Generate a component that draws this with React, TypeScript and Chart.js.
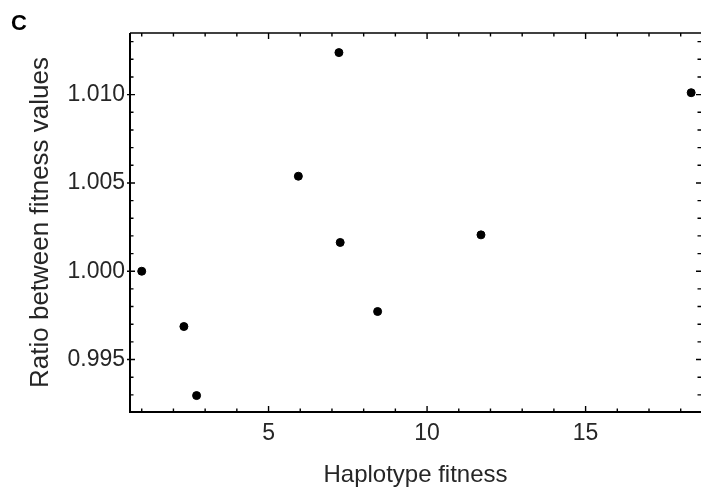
import React, { useEffect, useRef } from 'react';
import { Chart, registerables } from 'chart.js';

Chart.register(...registerables);

const haplotypeFitness = [1.0, 2.33, 2.73, 5.94, 7.22, 7.26, 8.44, 11.7, 18.33];
const fitnessRatio = [1.0, 0.99687, 0.99296, 1.00538, 1.01238, 1.00163, 0.99772, 1.00206, 1.01011];
const xMajorTicks = [5, 10, 15];
const yMajorTicks = [0.995, 1.0, 1.005, 1.01];
const panelLabel = 'C';
const xTitle = 'Haplotype fitness';
const yTitle = 'Ratio between fitness values';

const FONT = "'Liberation Sans', Arial, Helvetica, sans-serif";
const TEXT = '#262626';

const isMajorX = (v: number) => xMajorTicks.some((t) => Math.abs(t - v) < 1e-6);
const isMajorY = (v: number) => yMajorTicks.some((t) => Math.abs(t - v) < 1e-7);

const framePlugin = {
  id: 'frameTicks',
  afterDraw(chart: any) {
    const ctx = chart.ctx;
    const { left, right, top, bottom } = chart.chartArea;
    const xs = chart.scales.x;
    const ys = chart.scales.y;
    ctx.save();
    ctx.strokeStyle = '#000';
    ctx.lineCap = 'butt';
    // frame
    ctx.lineWidth = 2;
    ctx.beginPath();
    ctx.moveTo(left, top);
    ctx.lineTo(left, bottom);
    ctx.lineTo(right, bottom);
    ctx.stroke();
    ctx.lineWidth = 1.6;
    ctx.beginPath();
    ctx.moveTo(left, top);
    ctx.lineTo(right, top);
    ctx.stroke();
    // ticks
    ctx.lineWidth = 1.4;
    ctx.beginPath();
    xs.ticks.forEach((t: any) => {
      const px = xs.getPixelForValue(t.value);
      const len = isMajorX(t.value) ? 6 : 3.5;
      ctx.moveTo(px, bottom);
      ctx.lineTo(px, bottom - len);
      ctx.moveTo(px, top);
      ctx.lineTo(px, top + len);
    });
    ys.ticks.forEach((t: any) => {
      const py = ys.getPixelForValue(t.value);
      const major = isMajorY(t.value);
      const len = major ? 5 : 3.5;
      ctx.moveTo(left - (major ? 3 : 0), py);
      ctx.lineTo(left + len, py);
      ctx.moveTo(right, py);
      ctx.lineTo(right - len, py);
    });
    ctx.stroke();
    // panel label
    ctx.fillStyle = '#000';
    ctx.font = `bold 22px ${FONT}`;
    ctx.textAlign = 'left';
    ctx.textBaseline = 'alphabetic';
    ctx.fillText(panelLabel, 11, 29.5);
    ctx.restore();
  },
};

export default function App() {
  const ref = useRef<HTMLCanvasElement | null>(null);

  useEffect(() => {
    if (!ref.current) return;
    const chart = new Chart(ref.current, {
      type: 'scatter',
      data: {
        datasets: [
          {
            data: haplotypeFitness.map((x, i) => ({ x, y: fitnessRatio[i] })),
            backgroundColor: '#000',
            borderColor: '#000',
            pointRadius: 4,
            pointHoverRadius: 4,
            clip: false,
          },
        ],
      },
      options: {
        animation: false,
        responsive: false,
        maintainAspectRatio: false,
        layout: { autoPadding: false, padding: { top: 33, left: 0, right: 0, bottom: 0 } },
        plugins: { legend: { display: false }, tooltip: { enabled: false }, title: { display: false } },
        scales: {
          x: {
            type: 'linear',
            min: 0.63,
            max: 18.64,
            grid: { display: false, drawTicks: false },
            border: { display: false },
            ticks: {
              stepSize: 1,
              autoSkip: false,
              includeBounds: false,
              maxRotation: 0,
              padding: 8,
              color: TEXT,
              font: { family: FONT, size: 23 },
              callback: (v: any) => (isMajorX(Number(v)) ? String(Math.round(Number(v))) : ''),
            },
            title: {
              display: true,
              text: xTitle,
              color: TEXT,
              font: { family: FONT, size: 24 },
              padding: { top: 0, bottom: 0 },
            },
            afterFit: (s: any) => {
              s.height = 78;
              s.paddingLeft = 0;
              s.paddingRight = 0;
            },
          },
          y: {
            type: 'linear',
            min: 0.99203,
            max: 1.01349,
            grid: { display: false, drawTicks: false },
            border: { display: false },
            ticks: {
              stepSize: 0.001,
              autoSkip: false,
              includeBounds: false,
              padding: 5,
              color: TEXT,
              font: { family: FONT, size: 23 },
              callback: (v: any) => (isMajorY(Number(v)) ? Number(v).toFixed(3) : ''),
            },
            title: {
              display: true,
              text: yTitle,
              color: TEXT,
              font: { family: FONT, size: 26 },
              padding: { top: 25, bottom: 0 },
            },
            afterFit: (s: any) => {
              s.width = 130;
              s.paddingTop = 0;
              s.paddingBottom = 0;
            },
          },
        },
      },
      plugins: [framePlugin],
    });
    return () => chart.destroy();
  }, []);

  return (
    <div style={{ position: 'fixed', left: 0, top: 0, width: 701, height: 490, background: '#fff' }}>
      <canvas ref={ref} width={701} height={490} style={{ display: 'block', width: 701, height: 490 }} />
    </div>
  );
}
